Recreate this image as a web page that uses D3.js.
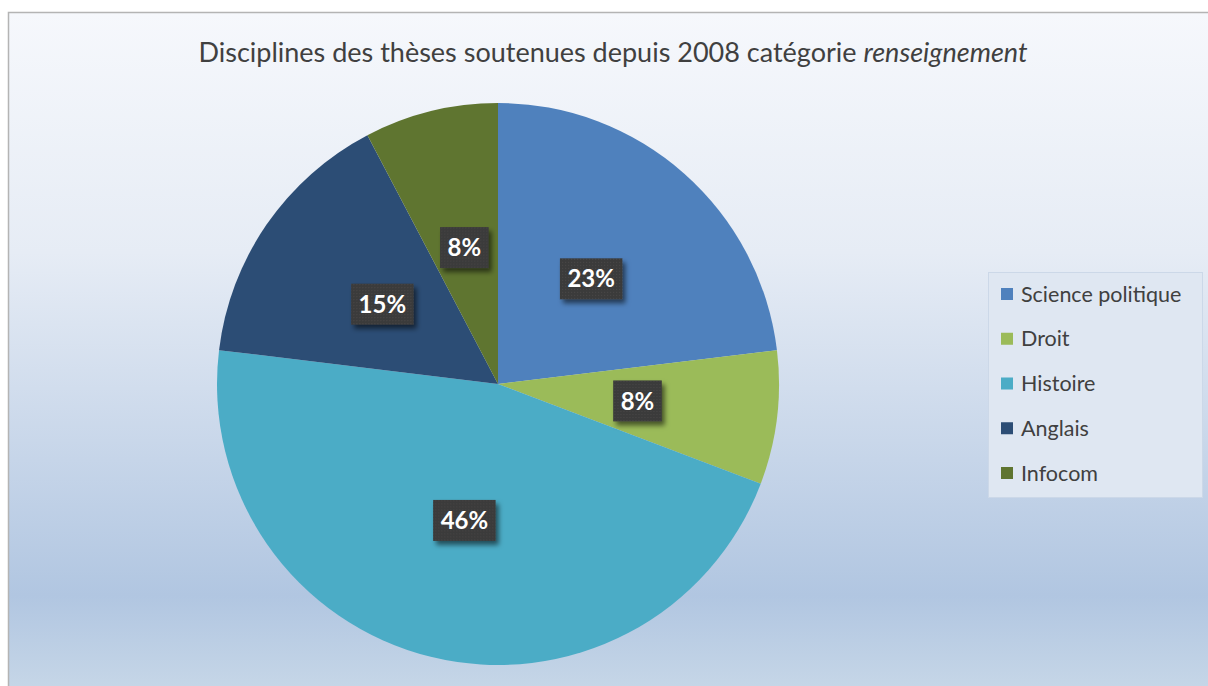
<!DOCTYPE html>
<html>
<head>
<meta charset="utf-8">
<title>Disciplines des thèses</title>
<style>
  body { margin: 0; background: #fff; }
  svg { display: block; font-family: Lato, "Open Sans", sans-serif; }
</style>
</head>
<body>
<div id="chart"></div>
<script src="https://d3js.org/d3.v7.min.js"></script>
<script>
// data (counts, 13 thèses in total)
var categories = ["Science politique", "Droit", "Histoire", "Anglais", "Infocom"];
var values = [3, 1, 6, 2, 1];
var colors = ["#4f81bd", "#9bbb59", "#4bacc6", "#2c4d75", "#5f7530"];

var width = 1208, height = 686;
var cx = 498, cy = 384, radius = 281;

var svg = d3.select("#chart").append("svg")
  .attr("width", width)
  .attr("height", height);

var defs = svg.append("defs");

var grad = defs.append("linearGradient")
  .attr("id", "bg").attr("x1", 0).attr("y1", 0).attr("x2", 0).attr("y2", 1);
grad.append("stop").attr("offset", 0).attr("stop-color", "#f6f8fc");
grad.append("stop").attr("offset", 0.35).attr("stop-color", "#e6ecf5");
grad.append("stop").attr("offset", 0.85).attr("stop-color", "#b1c6e1");
grad.append("stop").attr("offset", 1).attr("stop-color", "#c8d8e8");

// dotted texture of the data label boxes
var pat = defs.append("pattern")
  .attr("id", "dots").attr("width", 3).attr("height", 3)
  .attr("patternUnits", "userSpaceOnUse");
pat.append("rect").attr("width", 3).attr("height", 3).attr("fill", "#3a3a3a");
pat.append("rect").attr("x", 1).attr("y", 1).attr("width", 1).attr("height", 1).attr("fill", "#4d4a4a");

var shadow = defs.append("filter").attr("id", "shadow")
  .attr("x", "-30%").attr("y", "-30%").attr("width", "160%").attr("height", "160%");
shadow.append("feDropShadow")
  .attr("dx", 3).attr("dy", 4).attr("stdDeviation", 2.5)
  .attr("flood-color", "#000").attr("flood-opacity", 0.55);

// chart area
svg.append("rect")
  .attr("x", 8.5).attr("y", 12.5)
  .attr("width", width).attr("height", height)
  .attr("fill", "url(#bg)")
  .attr("stroke", "#b4b4b4").attr("stroke-width", 1.5);

// title
var title = svg.append("text")
  .attr("x", 613).attr("y", 62)
  .attr("text-anchor", "middle")
  .attr("font-size", 27)
  .attr("fill", "#404040");
title.append("tspan").text("Disciplines des thèses soutenues depuis 2008 catégorie ");
title.append("tspan").attr("font-style", "italic").text("renseignement");

// pie
var total = d3.sum(values);
var fmt = d3.format(".0%");
var pie = d3.pie().sort(null);
var arc = d3.arc().innerRadius(0).outerRadius(radius);
var color = d3.scaleOrdinal().domain(categories).range(colors);

var arcs = pie(values);
var g = svg.append("g").attr("transform", `translate(${cx},${cy})`);

g.selectAll("path.slice")
  .data(arcs)
  .enter()
  .append("path")
  .attr("class", "slice")
  .attr("d", arc)
  .attr("fill", (d, i) => color(categories[i]));

// data labels
var labels = g.selectAll("g.lab")
  .data(arcs)
  .enter()
  .append("g")
  .attr("class", "lab")
  .attr("transform", d => `translate(${arc.centroid(d)})`);

labels.append("rect").attr("class", "box");
labels.append("text")
  .attr("text-anchor", "middle")
  .attr("dy", "0.36em")
  .attr("font-size", 24)
  .attr("font-weight", "bold")
  .attr("fill", "#fff")
  .text(d => fmt(d.value / total));

labels.each(function() {
  var grp = d3.select(this);
  var w = grp.select("text").node().getComputedTextLength() + 15;
  grp.select("rect.box")
    .attr("x", -w / 2).attr("y", -20.5)
    .attr("width", w).attr("height", 41)
    .attr("fill", "url(#dots)")
    .attr("filter", "url(#shadow)");
});

// legend
var legend = svg.append("g");
legend.append("rect")
  .attr("x", 988.5).attr("y", 272.5)
  .attr("width", 214).attr("height", 225)
  .attr("fill", "#dfe7f2")
  .attr("stroke", "#ccd8e8");

var ly = d3.scalePoint().domain(categories).range([294, 473]);

var items = legend.selectAll("g.item")
  .data(categories)
  .enter()
  .append("g")
  .attr("class", "item")
  .attr("transform", d => `translate(1001,${ly(d)})`);

items.append("rect")
  .attr("x", 0).attr("y", -6)
  .attr("width", 12).attr("height", 12)
  .attr("fill", d => color(d));

items.append("text")
  .attr("x", 20).attr("dy", "0.35em")
  .attr("font-size", 21.5)
  .attr("fill", "#404040")
  .text(d => d);
</script>
</body>
</html>
